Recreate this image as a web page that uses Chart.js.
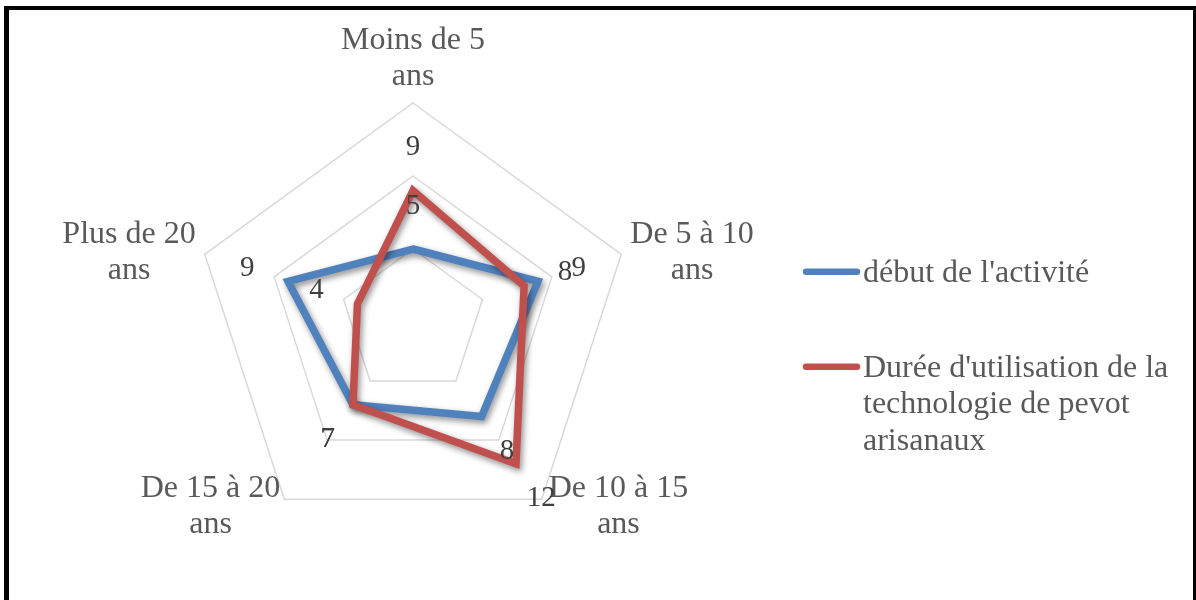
<!DOCTYPE html>
<html>
<head>
<meta charset="utf-8">
<script src="https://cdn.jsdelivr.net/npm/chart.js@4/dist/chart.umd.min.js"></script>
<style>
html,body{margin:0;padding:0;background:#ffffff;}
#wrap{position:relative;width:1196px;height:600px;overflow:hidden;}
canvas{display:block;}
</style>
</head>
<body>
<div id="wrap"><canvas id="c" width="1196" height="600"></canvas></div>
<script>
// ---- data ----
const categories = [["Moins de 5", "ans"], ["De 5 à 10", "ans"], ["De 10 à 15", "ans"], ["De 15 à 20", "ans"], ["Plus de 20", "ans"]];
const seriesNames = [["début de l'activité"], ["Durée d'utilisation de la", "technologie de pevot", "arisanaux"]];
const debutActivite = [5, 9, 8, 7, 9];
const dureeUtilisation = [9, 8, 12, 7, 4];
const scaleMin = 0;
const scaleMax = 15;
const scaleStep = 5;

const colors = ['#4F81BD', '#C0504D'];
const labelFont = '32px "Liberation Serif", "Times New Roman", serif';
const valueFont = '29px "Liberation Serif", "Times New Roman", serif';

const decor = {
  id: 'decor',
  beforeDatasetsDraw(chart) {
    const ctx = chart.ctx;
    const s = chart.scales.r;
    ctx.save();
    ctx.font = labelFont;
    ctx.fillStyle = '#595959';
    ctx.textBaseline = 'alphabetic';
    const lh = 36;
    categories.forEach((lines, i) => {
      const v = s.getPointPosition(i, s.drawingArea);
      const widths = lines.map(t => ctx.measureText(t).width);
      const bw = Math.max(...widths);
      let cx, b0;
      if (Math.abs(v.x - s.xCenter) < 1) {
        cx = v.x;
        b0 = v.y - 18 - lh * (lines.length - 1);
      } else {
        const right = v.x > s.xCenter;
        const upper = v.y < s.yCenter;
        const gap = upper ? 9 : (right ? 7 : 4);
        cx = right ? v.x + gap + bw / 2 : v.x - gap - bw / 2;
        b0 = upper ? v.y - 11 : v.y - 2;
      }
      ctx.textAlign = 'center';
      lines.forEach((t, k) => ctx.fillText(t, cx, b0 + k * lh));
    });
    ctx.restore();
  },
  beforeDatasetDraw(chart) {
    const ctx = chart.ctx;
    ctx.save();
    ctx.shadowColor = 'rgba(0,0,0,0.45)';
    ctx.shadowBlur = 6;
    ctx.shadowOffsetX = 2;
    ctx.shadowOffsetY = 3;
  },
  afterDatasetDraw(chart) {
    chart.ctx.restore();
  },
  afterDatasetsDraw(chart) {
    const ctx = chart.ctx;
    const s = chart.scales.r;
    ctx.save();
    // data labels
    ctx.font = valueFont;
    ctx.fillStyle = '#404040';
    ctx.textAlign = 'center';
    ctx.textBaseline = 'middle';
    chart.data.datasets.forEach((ds) => {
      ds.data.forEach((val, i) => {
        const p = s.getPointPosition(i, s.getDistanceFromCenterForValue(val) + 43);
        ctx.fillText(String(val), p.x, p.y);
      });
    });
    // legend
    ctx.font = labelFont;
    ctx.fillStyle = '#595959';
    ctx.textAlign = 'left';
    ctx.textBaseline = 'alphabetic';
    const items = [{y: 271.7}, {y: 366.7}];
    seriesNames.forEach((lines, k) => {
      const y = items[k].y;
      ctx.strokeStyle = colors[k];
      ctx.lineWidth = 6.5;
      ctx.lineCap = 'round';
      ctx.beginPath();
      ctx.moveTo(806, y);
      ctx.lineTo(857, y);
      ctx.stroke();
      lines.forEach((t, j) => ctx.fillText(t, 863, y + 10 + j * 36.6));
    });
    ctx.restore();
  },
  afterDraw(chart) {
    const ctx = chart.ctx;
    ctx.save();
    ctx.fillStyle = '#000000';
    ctx.fillRect(4, 6, 1192, 4);
    ctx.fillRect(4, 6, 5, 594);
    ctx.fillRect(1193, 6, 3, 594);
    ctx.restore();
  }
};

new Chart(document.getElementById('c'), {
  type: 'radar',
  data: {
    labels: categories,
    datasets: [
      {
        label: seriesNames[0].join(' '),
        data: debutActivite,
        borderColor: colors[0],
        backgroundColor: 'rgba(0,0,0,0)',
        borderWidth: 7.5,
        borderJoinStyle: 'miter',
        fill: false,
        pointRadius: 0,
        order: 1
      },
      {
        label: seriesNames[1].join(' '),
        data: dureeUtilisation,
        borderColor: colors[1],
        backgroundColor: 'rgba(0,0,0,0)',
        borderWidth: 7.5,
        borderJoinStyle: 'miter',
        fill: false,
        pointRadius: 0,
        order: 0
      }
    ]
  },
  options: {
    responsive: false,
    animation: false,
    devicePixelRatio: 1,
    layout: { padding: { left: 194, right: 564, top: 103, bottom: 59 } },
    plugins: { legend: { display: false }, tooltip: { enabled: false } },
    elements: { line: { tension: 0 }, point: { radius: 0, hoverRadius: 0 } },
    scales: {
      r: {
        min: scaleMin,
        max: scaleMax,
        ticks: { display: false, stepSize: scaleStep },
        grid: { color: '#D9D9D9', lineWidth: 1.5 },
        angleLines: { display: false },
        pointLabels: { display: false }
      }
    }
  },
  plugins: [decor]
});
</script>
</body>
</html>
